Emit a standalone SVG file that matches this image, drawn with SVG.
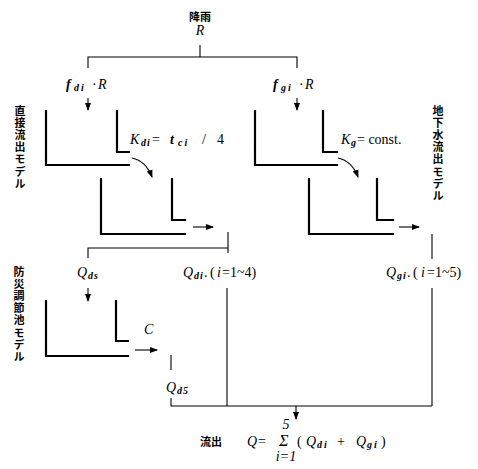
<svg xmlns="http://www.w3.org/2000/svg" width="478" height="469" viewBox="0 0 478 469">
<style>
.wall{stroke:#000;stroke-width:2.2;fill:none;stroke-linecap:square}
.con{stroke:#000;stroke-width:1.1;fill:none}
.jp{font-family:"Noto Sans CJK JP",sans-serif;font-weight:bold;font-size:11px;fill:#000}
.vt{writing-mode:vertical-rl;text-orientation:upright;letter-spacing:1.2px}
.m{font-family:"Liberation Serif","DejaVu Serif",serif;font-style:italic;font-size:14px;fill:#000}
.sb{font-size:10px;font-weight:bold}
.up{font-style:normal}
</style>
<defs>
<marker id="ah" markerWidth="8" markerHeight="8" refX="7" refY="4" orient="auto" markerUnits="userSpaceOnUse">
<path d="M0,1 L8,4 L0,7 Z" fill="#000"/>
</marker>
</defs>
<g id="labels">
<text class="jp" x="200" y="21" text-anchor="middle" font-size="12">降雨</text>
<text class="m" x="200" y="35" text-anchor="middle">R</text>
<text class="jp vt" x="20" y="105">直接流出モデル</text>
<text class="jp vt" x="438" y="105">地下水流出モデル</text>
<text class="jp vt" x="19" y="266">防災調節池モデル</text>
</g>
<g id="connectors">
<path class="con" d="M200,45 V57 M88,68 V57 H297 V68"/>
<path class="con" d="M88,98 V110" marker-end="url(#ah)"/>
<path class="con" d="M297,98 V110" marker-end="url(#ah)"/>
<path class="con" d="M132,158 Q146,161 152,177" marker-end="url(#ah)"/>
<path class="con" d="M338,158 Q352,161 358,177" marker-end="url(#ah)"/>
<path class="con" d="M193,227 H213" marker-end="url(#ah)"/>
<path class="con" d="M399,227 H419" marker-end="url(#ah)"/>
<path class="con" d="M228,232 V253 M88,258 V248 H228"/>
<path class="con" d="M432,234 V259"/>
<path class="con" d="M88,288 V301" marker-end="url(#ah)"/>
<path class="con" d="M135,350 H157" marker-end="url(#ah)"/>
<path class="con" d="M171,355 V370"/>
<path class="con" d="M227,288 V406 M432,288 V406 M171,398 V406 H432"/>
<path class="con" d="M296,406 V419" marker-end="url(#ah)"/>
</g>
<g id="tank-d1">
<path class="wall" d="M46,111 V165 H129 M117,111 V152 H129"/>
</g>
<g id="tank-d2">
<path class="wall" d="M101,179 V234 H185 M172,179 V220 H185"/>
</g>
<g id="tank-g1">
<path class="wall" d="M255,111 V165 H337 M323,111 V152 H337"/>
</g>
<g id="tank-g2">
<path class="wall" d="M309,179 V234 H393 M377,179 V220 H393"/>
</g>
<g id="tank-pond">
<path class="wall" d="M46,301 V356 H128 M116,301 V341 H128"/>
</g>
<g id="math">
<text class="m" y="89"><tspan x="66" font-weight="bold">f</tspan><tspan class="sb" x="74" dy="2" letter-spacing="2">di</tspan><tspan x="92" dy="-2" class="up">·</tspan><tspan x="98">R</tspan></text>
<text class="m" y="89"><tspan x="273" font-weight="bold">f</tspan><tspan class="sb" x="281" dy="2" letter-spacing="2">gi</tspan><tspan x="299" dy="-2" class="up">·</tspan><tspan x="305">R</tspan></text>
<text class="m" y="144"><tspan x="130">K</tspan><tspan class="sb" x="141" dy="2" letter-spacing="1">di</tspan><tspan x="152" dy="-2" class="up">=</tspan><tspan x="170" font-weight="bold">t</tspan><tspan class="sb" x="178" dy="2" letter-spacing="2">ci</tspan><tspan x="202" dy="-2" class="up">/</tspan><tspan x="217" class="up">4</tspan></text>
<text class="m" y="144"><tspan x="341">K</tspan><tspan class="sb" x="351" dy="2">g</tspan><tspan x="357" dy="-2" class="up">= const.</tspan></text>
<text class="m" y="277"><tspan x="77">Q</tspan><tspan class="sb" x="88" dy="2" letter-spacing="1">ds</tspan></text>
<text class="m" y="277"><tspan x="183">Q</tspan><tspan class="sb" x="194" dy="2" letter-spacing="1">di</tspan><tspan x="204" dy="-2" class="up">.</tspan><tspan x="210" class="up">(</tspan><tspan x="217">i</tspan><tspan x="222" class="up">=1~4)</tspan></text>
<text class="m" y="277"><tspan x="386">Q</tspan><tspan class="sb" x="397" dy="2" letter-spacing="1">gi</tspan><tspan x="407" dy="-2" class="up">.</tspan><tspan x="413" class="up">(</tspan><tspan x="421">i</tspan><tspan x="427" class="up">=1~5)</tspan></text>
<text class="m" x="144" y="334">C</text>
<text class="m" y="392"><tspan x="166">Q</tspan><tspan class="sb" x="177" dy="2" letter-spacing="1">d5</tspan></text>
<text class="m" x="286" y="429" font-size="9" text-anchor="middle">5</text>
<text class="jp" x="200" y="446" font-size="12" font-weight="normal">流出</text>
<text class="m" y="446"><tspan x="247">Q</tspan><tspan x="258" class="up">=</tspan><tspan x="279" font-size="16">Σ</tspan><tspan x="297" class="up">(</tspan><tspan x="306">Q</tspan><tspan class="sb" x="317" dy="2" letter-spacing="2">di</tspan><tspan x="337" dy="-2" class="up">+</tspan><tspan x="356">Q</tspan><tspan class="sb" x="367" dy="2" letter-spacing="2">gi</tspan><tspan x="381" dy="-2" class="up">)</tspan></text>
<text class="m" x="286" y="461" font-size="8" text-anchor="middle">i=1</text>
</g>
</svg>
